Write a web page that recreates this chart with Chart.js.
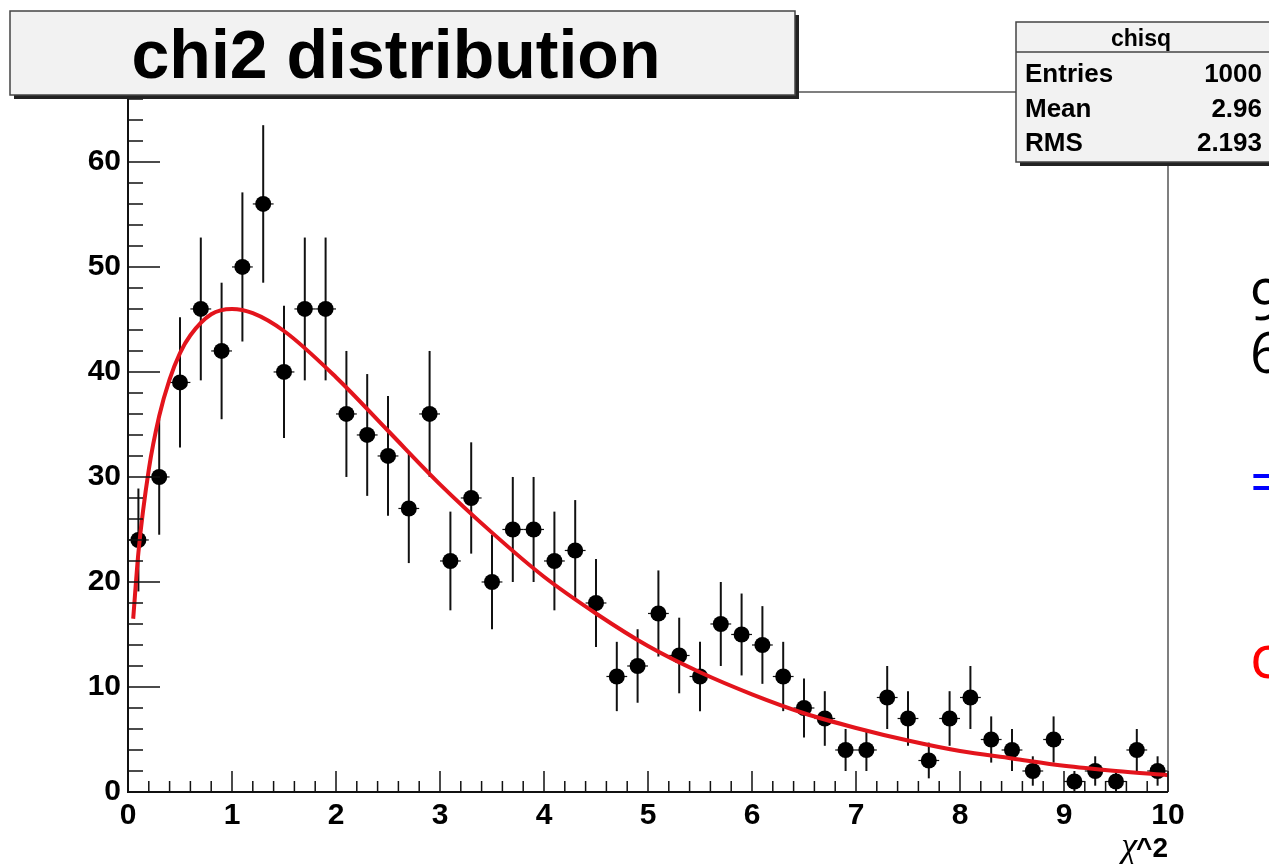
<!DOCTYPE html>
<html>
<head>
<meta charset="utf-8">
<script src="https://cdn.jsdelivr.net/npm/chart.js@4.4.1/dist/chart.umd.min.js"></script>
<style>
  html, body { margin: 0; padding: 0; background: #fff; overflow: hidden; }
  #wrap { width: 1269px; height: 864px; }
</style>
</head>
<body>
<div id="wrap"><canvas id="myChart" width="1269" height="864"></canvas></div>
<script>
// histogram bins (width 0.2)
const binCenters = [0.1, 0.3, 0.5, 0.7, 0.9, 1.1, 1.3, 1.5, 1.7, 1.9,
                    2.1, 2.3, 2.5, 2.7, 2.9, 3.1, 3.3, 3.5, 3.7, 3.9,
                    4.1, 4.3, 4.5, 4.7, 4.9, 5.1, 5.3, 5.5, 5.7, 5.9,
                    6.1, 6.3, 6.5, 6.7, 6.9, 7.1, 7.3, 7.5, 7.7, 7.9,
                    8.1, 8.3, 8.5, 8.7, 8.9, 9.1, 9.3, 9.5, 9.7, 9.9];
const counts = [24, 30, 39, 46, 42, 50, 56, 40, 46, 46,
                36, 34, 32, 27, 36, 22, 28, 20, 25, 25,
                22, 23, 18, 11, 12, 17, 13, 11, 16, 15,
                14, 11, 8, 7, 4, 4, 9, 7, 3, 7,
                9, 5, 4, 2, 5, 1, 2, 1, 4, 2];
const errors = [4.9, 5.5, 6.2, 6.8, 6.5, 7.1, 7.5, 6.3, 6.8, 6.8,
                6.0, 5.8, 5.7, 5.2, 6.0, 4.7, 5.3, 4.5, 5.0, 5.0,
                4.7, 4.8, 4.2, 3.3, 3.5, 4.1, 3.6, 3.3, 4.0, 3.9,
                3.7, 3.3, 2.8, 2.6, 2.0, 2.0, 3.0, 2.6, 1.7, 2.6,
                3.0, 2.2, 2.0, 1.4, 2.2, 1.0, 1.4, 1.0, 2.0, 1.4];
const binWidth = 0.2;

// red fit curve
const fitX = [0.05, 0.1, 0.2, 0.3, 0.4, 0.5, 0.6, 0.8, 1.0, 1.2, 1.5, 2.0, 2.5, 3.0, 3.5,
              4.0, 4.5, 5.0, 5.5, 6.0, 6.5, 7.0, 7.5, 8.0, 8.5, 9.0, 9.5, 10.0];
const fitY = [16.5, 22.8, 30.7, 35.8, 39.3, 41.8, 43.5, 45.5, 46.0, 45.6, 43.9, 39.5, 34.4, 29.3, 24.7,
              20.5, 17.0, 13.9, 11.4, 9.3, 7.5, 6.1, 4.9, 3.9, 3.2, 2.5, 2.0, 1.6];

const xTicks = [0, 1, 2, 3, 4, 5, 6, 7, 8, 9, 10];
const yTicks = [0, 10, 20, 30, 40, 50, 60];

const statsRows = [['Entries', '1000'], ['Mean', '2.96'], ['RMS', '2.193']];

const sans = "'Liberation Sans', Arial, Helvetica, sans-serif";

function drawBox(ctx, x, y, w, h, shadow) {
  ctx.fillStyle = '#222';
  ctx.fillRect(x + shadow, y + shadow, w, h);
  ctx.fillStyle = '#f2f2f2';
  ctx.fillRect(x, y, w, h);
  ctx.strokeStyle = '#444';
  ctx.lineWidth = 1.5;
  ctx.strokeRect(x, y, w, h);
}

const rootStyle = {
  id: 'rootStyle',
  beforeDatasetsDraw(chart) {
    const { ctx, scales: { x, y } } = chart;
    ctx.save();
    ctx.strokeStyle = '#111';
    counts.forEach((c, i) => {
      const px = x.getPixelForValue(binCenters[i]);
      const py = y.getPixelForValue(c);
      ctx.lineWidth = 2;
      ctx.beginPath();
      ctx.moveTo(px, y.getPixelForValue(c - errors[i]));
      ctx.lineTo(px, y.getPixelForValue(c + errors[i]));
      ctx.stroke();
      ctx.lineWidth = 1.2;
      ctx.beginPath();
      ctx.moveTo(x.getPixelForValue(binCenters[i] - binWidth / 2), py);
      ctx.lineTo(x.getPixelForValue(binCenters[i] + binWidth / 2), py);
      ctx.stroke();
    });
    ctx.restore();
  },
  afterDraw(chart) {
    const { ctx, chartArea: a, scales: { x, y } } = chart;
    ctx.save();

    // frame
    ctx.strokeStyle = '#555';
    ctx.lineWidth = 1.5;
    ctx.beginPath();
    ctx.moveTo(a.left, a.top);
    ctx.lineTo(a.right, a.top);
    ctx.lineTo(a.right, a.bottom);
    ctx.stroke();

    // axes
    ctx.strokeStyle = '#111';
    ctx.lineWidth = 2;
    ctx.beginPath();
    ctx.moveTo(a.left, a.top);
    ctx.lineTo(a.left, a.bottom);
    ctx.lineTo(a.right, a.bottom);
    ctx.stroke();

    // ticks, pointing into the frame
    ctx.lineWidth = 1.5;
    ctx.beginPath();
    for (let i = 0; i < xTicks.length; i++) {
      const v = xTicks[i];
      const px = x.getPixelForValue(v);
      ctx.moveTo(px, a.bottom);
      ctx.lineTo(px, a.bottom - 21);
      if (i < xTicks.length - 1) {
        for (let k = 1; k < 5; k++) {
          const mx = x.getPixelForValue(v + k * 0.2);
          ctx.moveTo(mx, a.bottom);
          ctx.lineTo(mx, a.bottom - 11);
        }
      }
    }
    yTicks.forEach(v => {
      const py = y.getPixelForValue(v);
      ctx.moveTo(a.left, py);
      ctx.lineTo(a.left + 32, py);
      for (let k = 1; k < 5; k++) {
        const mv = v + k * 2;
        if (mv > y.max) break;
        const my = y.getPixelForValue(mv);
        ctx.moveTo(a.left, my);
        ctx.lineTo(a.left + 15, my);
      }
    });
    ctx.stroke();

    // axis title
    ctx.fillStyle = '#000';
    ctx.textBaseline = 'alphabetic';
    ctx.font = "bold 28px " + sans;
    const supW = ctx.measureText('^2').width;
    ctx.textAlign = 'right';
    ctx.fillText('^2', a.right, 857);
    ctx.font = "italic 36px 'Liberation Serif', 'DejaVu Serif', serif";
    ctx.fillText('χ', a.right - supW + 1, 857);

    // title box
    drawBox(ctx, 10, 11, 785, 84, 4);
    ctx.fillStyle = '#000';
    ctx.textAlign = 'center';
    ctx.font = "bold 68px " + sans;
    ctx.fillText('chi2 distribution', 396, 78);

    // stats box
    drawBox(ctx, 1016, 22, 270, 140, 4);
    ctx.strokeStyle = '#444';
    ctx.lineWidth = 1.5;
    ctx.beginPath();
    ctx.moveTo(1016, 52);
    ctx.lineTo(1269, 52);
    ctx.stroke();
    ctx.fillStyle = '#000';
    ctx.font = "bold 23px " + sans;
    ctx.textAlign = 'center';
    ctx.fillText('chisq', 1141, 46);
    ctx.font = "bold 26px " + sans;
    statsRows.forEach((r, i) => {
      const by = 82 + i * 34.5;
      ctx.textAlign = 'left';
      ctx.fillText(r[0], 1025, by);
      ctx.textAlign = 'right';
      ctx.fillText(r[1], 1262, by);
    });

    // cut-off slide text at the right edge
    ctx.textAlign = 'left';
    ctx.font = "56px 'Open Sans', 'Noto Sans', sans-serif";
    ctx.fillStyle = '#000';
    ctx.fillText('9', 1250, 320);
    ctx.fillText('6', 1250, 373);
    ctx.font = "60px 'Open Sans', 'Noto Sans', sans-serif";
    ctx.fillStyle = '#0000ff';
    ctx.fillText('=', 1250, 503);
    ctx.fillStyle = '#ff0000';
    ctx.fillText('c', 1250, 678);

    ctx.restore();
  }
};

const ctx = document.getElementById('myChart').getContext('2d');
new Chart(ctx, {
  data: {
    datasets: [{
      type: 'line',
      label: 'fit',
      data: fitX.map((v, i) => ({ x: v, y: fitY[i] })),
      borderColor: '#e3141c',
      borderWidth: 4,
      pointRadius: 0,
      cubicInterpolationMode: 'monotone',
      fill: false
    }, {
      type: 'scatter',
      label: 'chisq',
      data: binCenters.map((v, i) => ({ x: v, y: counts[i] })),
      backgroundColor: '#000',
      borderWidth: 0,
      pointRadius: 8,
      clip: false
    }]
  },
  options: {
    responsive: false,
    animation: false,
    layout: { padding: { top: 92, right: 101, left: 0, bottom: 0 } },
    plugins: { legend: { display: false }, tooltip: { enabled: false } },
    scales: {
      x: {
        type: 'linear',
        min: 0,
        max: 10,
        grid: { display: false, drawTicks: false },
        border: { display: false },
        afterFit: s => { s.height = 72; },
        afterBuildTicks: s => { s.ticks = xTicks.map(v => ({ value: v })); },
        ticks: {
          color: '#000',
          padding: 6,
          maxRotation: 0,
          autoSkip: false,
          font: { family: sans, weight: 'bold', size: 30 }
        }
      },
      y: {
        type: 'linear',
        min: 0,
        max: 66.66,
        grid: { display: false, drawTicks: false },
        border: { display: false },
        afterFit: s => { s.width = 128; },
        afterBuildTicks: s => { s.ticks = yTicks.map(v => ({ value: v })); },
        ticks: {
          color: '#000',
          padding: 7,
          font: { family: sans, weight: 'bold', size: 30 }
        }
      }
    }
  },
  plugins: [rootStyle]
});
</script>
</body>
</html>
